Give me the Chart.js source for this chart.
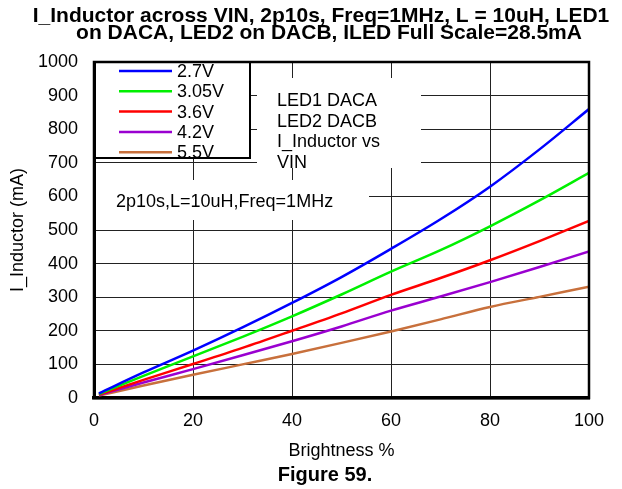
<!DOCTYPE html>
<html>
<head>
<meta charset="utf-8">
<script src="https://cdn.jsdelivr.net/npm/chart.js@4/dist/chart.umd.min.js"></script>
<style>
  html, body { margin: 0; padding: 0; background: #fff; }
</style>
</head>
<body>
<canvas id="myChart" width="622" height="489"></canvas>
<script>
// brightness steps (%) and inductor current (mA) for each VIN
const brightness = [1, 10, 20, 30, 40, 50, 60, 70, 80, 90, 100];
const vin27  = [14, 76, 141, 210, 283, 360, 444, 532, 629, 740, 860];
const vin305 = [12, 66, 124, 182, 243, 308, 376, 440, 511, 588, 670];
const vin36  = [10, 54, 101, 149, 200, 252, 307, 357, 410, 467, 527];
const vin42  = [9, 46, 86, 127, 169, 213, 260, 302, 345, 390, 436];
const vin55  = [7, 37, 69, 100, 131, 164, 198, 234, 271, 301, 331];

const seriesNames = ["2.7V", "3.05V", "3.6V", "4.2V", "5.5V"];
const seriesColors = ["#0000ff", "#00f000", "#ff0000", "#9a00d0", "#c8703c"];
const xTicks = [0, 20, 40, 60, 80, 100];
const yTicks = [0, 100, 200, 300, 400, 500, 600, 700, 800, 900, 1000];

const titleLines = [
    "I_Inductor across VIN, 2p10s, Freq=1MHz, L = 10uH, LED1",
    "on DACA, LED2 on DACB, ILED Full Scale=28.5mA"
];
const noteLines = ["LED1 DACA", "LED2 DACB", "I_Inductor vs", "VIN"];
const condNote = "2p10s,L=10uH,Freq=1MHz";
const figureLabel = "Figure 59.";

const FONT = "'Liberation Sans', Arial, sans-serif";

const toPoints = (ys) => brightness.map((x, i) => ({ x: x, y: ys[i] }));
const allSeries = [vin27, vin305, vin36, vin42, vin55];

// white panels, legend and notes drawn on top of the grid
const panels = {
    id: "panels",
    beforeDatasetsDraw(chart) {
        const ctx = chart.ctx;
        ctx.save();
        ctx.fillStyle = "#fff";
        ctx.fillRect(257, 78, 164, 90);
        ctx.fillRect(96, 180, 273, 40);
        ctx.fillRect(95, 63, 155, 95);

        ctx.lineWidth = 2;
        ctx.strokeStyle = "#000";
        ctx.strokeRect(95, 62, 155, 96);

        ctx.font = "18px " + FONT;
        ctx.textBaseline = "middle";
        ctx.fillStyle = "#000";
        chart.data.datasets.forEach((ds, i) => {
            const y = 71 + i * 20.3;
            ctx.strokeStyle = ds.borderColor;
            ctx.lineWidth = 2.5;
            ctx.beginPath();
            ctx.moveTo(119, y);
            ctx.lineTo(172, y);
            ctx.stroke();
            ctx.fillText(ds.label, 177, y + 1);
        });

        noteLines.forEach((t, i) => ctx.fillText(t, 277, 101 + i * 20.7));
        ctx.fillText(condNote, 116, 202);
        ctx.restore();
    },
    afterDatasetsDraw(chart) {
        const { ctx, chartArea: a } = chart;
        ctx.save();
        ctx.strokeStyle = "#000";
        ctx.lineWidth = 2.5;
        ctx.strokeRect(a.left, a.top, a.right - a.left, a.bottom - a.top);
        ctx.restore();
    },
    afterDraw(chart) {
        const ctx = chart.ctx;
        ctx.save();
        ctx.fillStyle = "#000";
        ctx.textAlign = "center";
        ctx.textBaseline = "alphabetic";
        ctx.font = "bold 21px " + FONT;
        ctx.fillText(titleLines[0], 321, 22);
        ctx.fillText(titleLines[1], 329, 39);
        ctx.font = "bold 20px " + FONT;
        ctx.fillText(figureLabel, 325, 481);
        ctx.restore();
    }
};

const config = {
    type: "line",
    data: {
        datasets: allSeries.map((ys, i) => ({
            label: seriesNames[i],
            data: toPoints(ys),
            borderColor: seriesColors[i],
            borderWidth: 2.5,
            pointRadius: 0,
            cubicInterpolationMode: "monotone",
            fill: false
        }))
    },
    options: {
        responsive: false,
        animation: false,
        devicePixelRatio: 1,
        layout: { padding: { top: 62, right: 0, bottom: 0, left: 0 } },
        plugins: {
            legend: { display: false },
            title: { display: false },
            tooltip: { enabled: false }
        },
        scales: {
            x: {
                type: "linear",
                min: 0,
                max: 100,
                afterFit: (s) => { s.height = 91; s.paddingRight = 33; },
                afterBuildTicks: (s) => { s.ticks = xTicks.map((v) => ({ value: v })); },
                ticks: {
                    padding: 12, color: "#000", font: { family: FONT, size: 18 },
                    callback: (v) => String(v)
                },
                grid: { color: "#222", lineWidth: 1, drawTicks: false },
                border: { color: "#000", width: 3.5 },
                title: {
                    display: true,
                    text: "Brightness %",
                    color: "#000",
                    font: { family: FONT, size: 18 },
                    padding: { top: 0, bottom: 27 }
                }
            },
            y: {
                min: 0,
                max: 1000,
                afterFit: (s) => { s.width = 94; },
                afterBuildTicks: (s) => { s.ticks = yTicks.map((v) => ({ value: v })); },
                ticks: {
                    padding: 16, color: "#000", font: { family: FONT, size: 18 },
                    callback: (v) => String(v)
                },
                grid: { color: "#222", lineWidth: 1, drawTicks: false },
                border: { color: "#000", width: 3 },
                title: {
                    display: true,
                    text: "I_Inductor (mA)",
                    color: "#000",
                    font: { family: FONT, size: 18 },
                    padding: { top: 7, bottom: 0 }
                }
            }
        }
    },
    plugins: [panels]
};

const myChart = new Chart(document.getElementById("myChart"), config);
</script>
</body>
</html>
